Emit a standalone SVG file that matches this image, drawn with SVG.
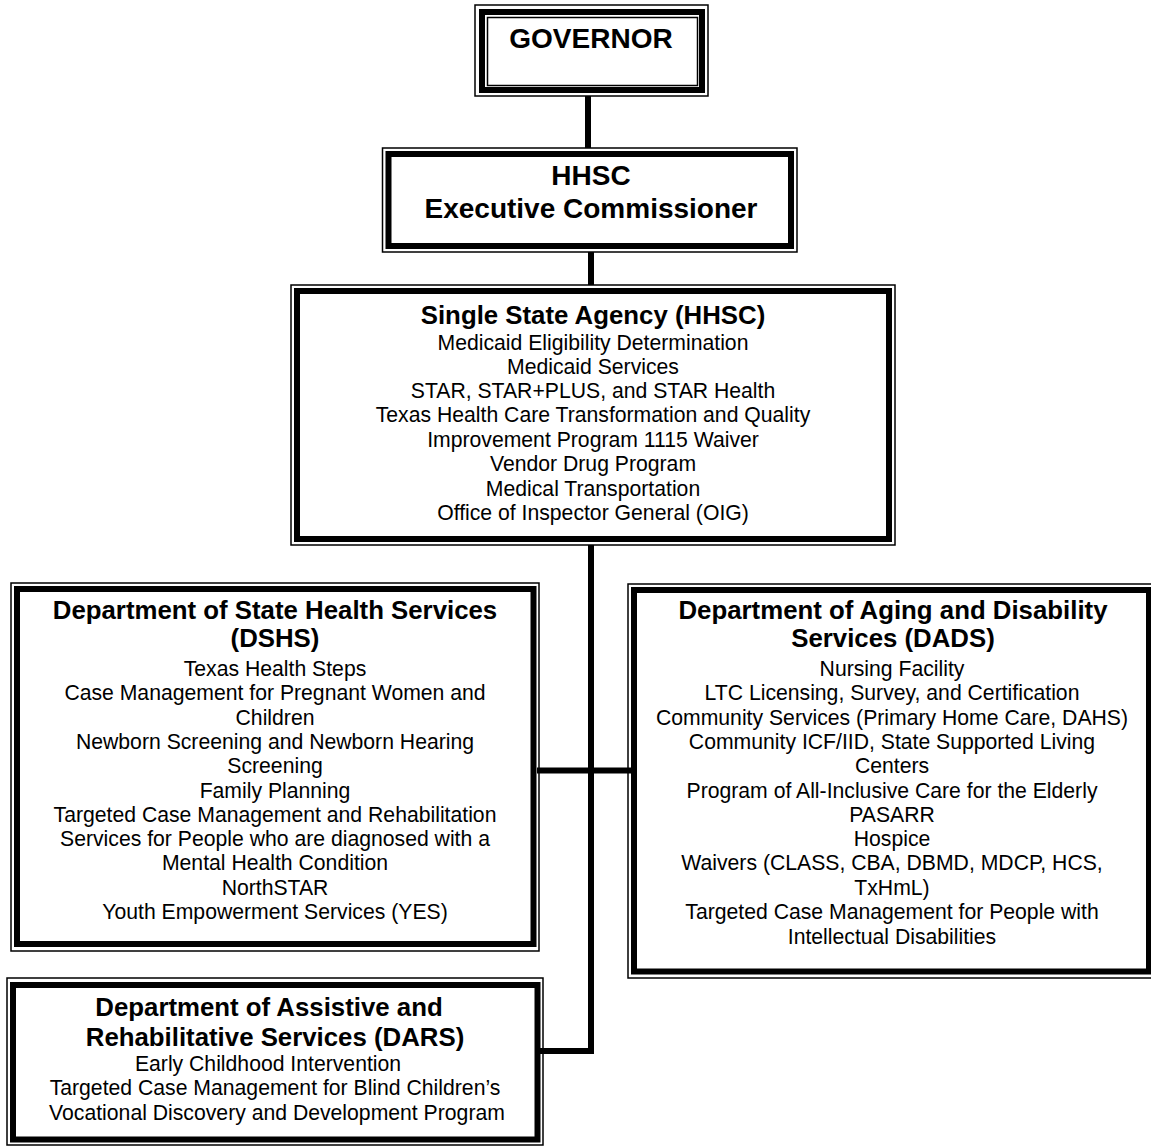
<svg xmlns="http://www.w3.org/2000/svg" width="1151" height="1146" viewBox="0 0 1151 1146">
<style>
.thin{fill:none;stroke:#000;stroke-width:1.5}
.thick{fill:none;stroke:#000;stroke-width:6}
.bg{fill:#fff}
.conn{stroke:#000;stroke-width:6;fill:none}
text{font-family:"Liberation Sans",Arial,sans-serif;fill:#000;text-anchor:middle}
.t{font-weight:bold;font-size:25.8px}
.h{font-weight:bold;font-size:28px}
.b{font-size:21.2px}
</style>
<rect class="bg" x="0" y="0" width="1151" height="1146"/>
<g id="connectors">
<line class="conn" x1="588" y1="96" x2="588" y2="148"/>
<line class="conn" x1="591" y1="252" x2="591" y2="285"/>
<line class="conn" x1="591" y1="545" x2="591" y2="1054"/>
<line class="conn" x1="537" y1="770.5" x2="634" y2="770.5"/>
<line class="conn" x1="540" y1="1051" x2="594" y2="1051"/>
</g>
<g id="governor">
<rect class="thin" x="475" y="5" width="233" height="91"/>
<rect class="thick" x="482" y="12" width="220" height="78"/>
<rect class="thin" x="487.5" y="17.5" width="210" height="68"/>
<text class="h" x="591" y="48">GOVERNOR</text>
</g>
<g id="hhsc">
<rect class="thin" x="382.5" y="148" width="414.5" height="104"/>
<rect class="thick" x="388.5" y="154" width="402.5" height="92"/>
<text class="h" x="591" y="185">HHSC</text>
<text class="h" x="591" y="218">Executive Commissioner</text>
</g>
<g id="ssa">
<rect class="thin" x="291" y="285" width="604" height="260"/>
<rect class="thick" x="297" y="291" width="592" height="248"/>
<text class="t" x="593" y="324">Single State Agency (HHSC)</text>
<text class="b" x="593" y="349.5">Medicaid Eligibility Determination</text>
<text class="b" x="593" y="373.5">Medicaid Services</text>
<text class="b" x="593" y="397.5">STAR, STAR+PLUS, and STAR Health</text>
<text class="b" x="593" y="421.5">Texas Health Care Transformation and Quality</text>
<text class="b" x="593" y="446.5">Improvement Program 1115 Waiver</text>
<text class="b" x="593" y="470.5">Vendor Drug Program</text>
<text class="b" x="593" y="495.5">Medical Transportation</text>
<text class="b" x="593" y="519.5">Office of Inspector General (OIG)</text>
</g>
<g id="dshs">
<rect class="thin" x="11" y="583" width="528" height="368"/>
<rect class="thick" x="17" y="589" width="516.5" height="355"/>
<text class="t" x="275" y="618.5">Department of State Health Services</text>
<text class="t" x="275" y="646.5">(DSHS)</text>
<text class="b" x="275" y="675.5">Texas Health Steps</text>
<text class="b" x="275" y="699.5">Case Management for Pregnant Women and</text>
<text class="b" x="275" y="724.5">Children</text>
<text class="b" x="275" y="748.5">Newborn Screening and Newborn Hearing</text>
<text class="b" x="275" y="772.5">Screening</text>
<text class="b" x="275" y="797.5">Family Planning</text>
<text class="b" x="275" y="821.5">Targeted Case Management and Rehabilitation</text>
<text class="b" x="275" y="845.5">Services for People who are diagnosed with a</text>
<text class="b" x="275" y="869.5">Mental Health Condition</text>
<text class="b" x="275" y="894.5">NorthSTAR</text>
<text class="b" x="275" y="918.5">Youth Empowerment Services (YES)</text>
</g>
<g id="dads">
<rect class="thin" x="628" y="584" width="527" height="394"/>
<rect class="thick" x="634" y="590" width="515" height="381.5"/>
<text class="t" x="893" y="618.5">Department of Aging and Disability</text>
<text class="t" x="893" y="646.5">Services (DADS)</text>
<text class="b" x="892" y="675.5">Nursing Facility</text>
<text class="b" x="892" y="699.5">LTC Licensing, Survey, and Certification</text>
<text class="b" x="892" y="724.5">Community Services (Primary Home Care, DAHS)</text>
<text class="b" x="892" y="748.5">Community ICF/IID, State Supported Living</text>
<text class="b" x="892" y="772.5">Centers</text>
<text class="b" x="892" y="797.5">Program of All-Inclusive Care for the Elderly</text>
<text class="b" x="892" y="821.5">PASARR</text>
<text class="b" x="892" y="845.5">Hospice</text>
<text class="b" x="892" y="869.5">Waivers (CLASS, CBA, DBMD, MDCP, HCS,</text>
<text class="b" x="892" y="894.5">TxHmL)</text>
<text class="b" x="892" y="918.5">Targeted Case Management for People with</text>
<text class="b" x="892" y="943.5">Intellectual Disabilities</text>
</g>
<g id="dars">
<rect class="thin" x="7" y="978" width="536" height="167"/>
<rect class="thick" x="13" y="985" width="524.5" height="154.5"/>
<text class="t" x="269" y="1016">Department of Assistive and</text>
<text class="t" x="275" y="1046">Rehabilitative Services (DARS)</text>
<text class="b" x="268" y="1070.5">Early Childhood Intervention</text>
<text class="b" x="275" y="1094.5">Targeted Case Management for Blind Children’s</text>
<text class="b" x="277" y="1119.5">Vocational Discovery and Development Program</text>
</g>
</svg>
